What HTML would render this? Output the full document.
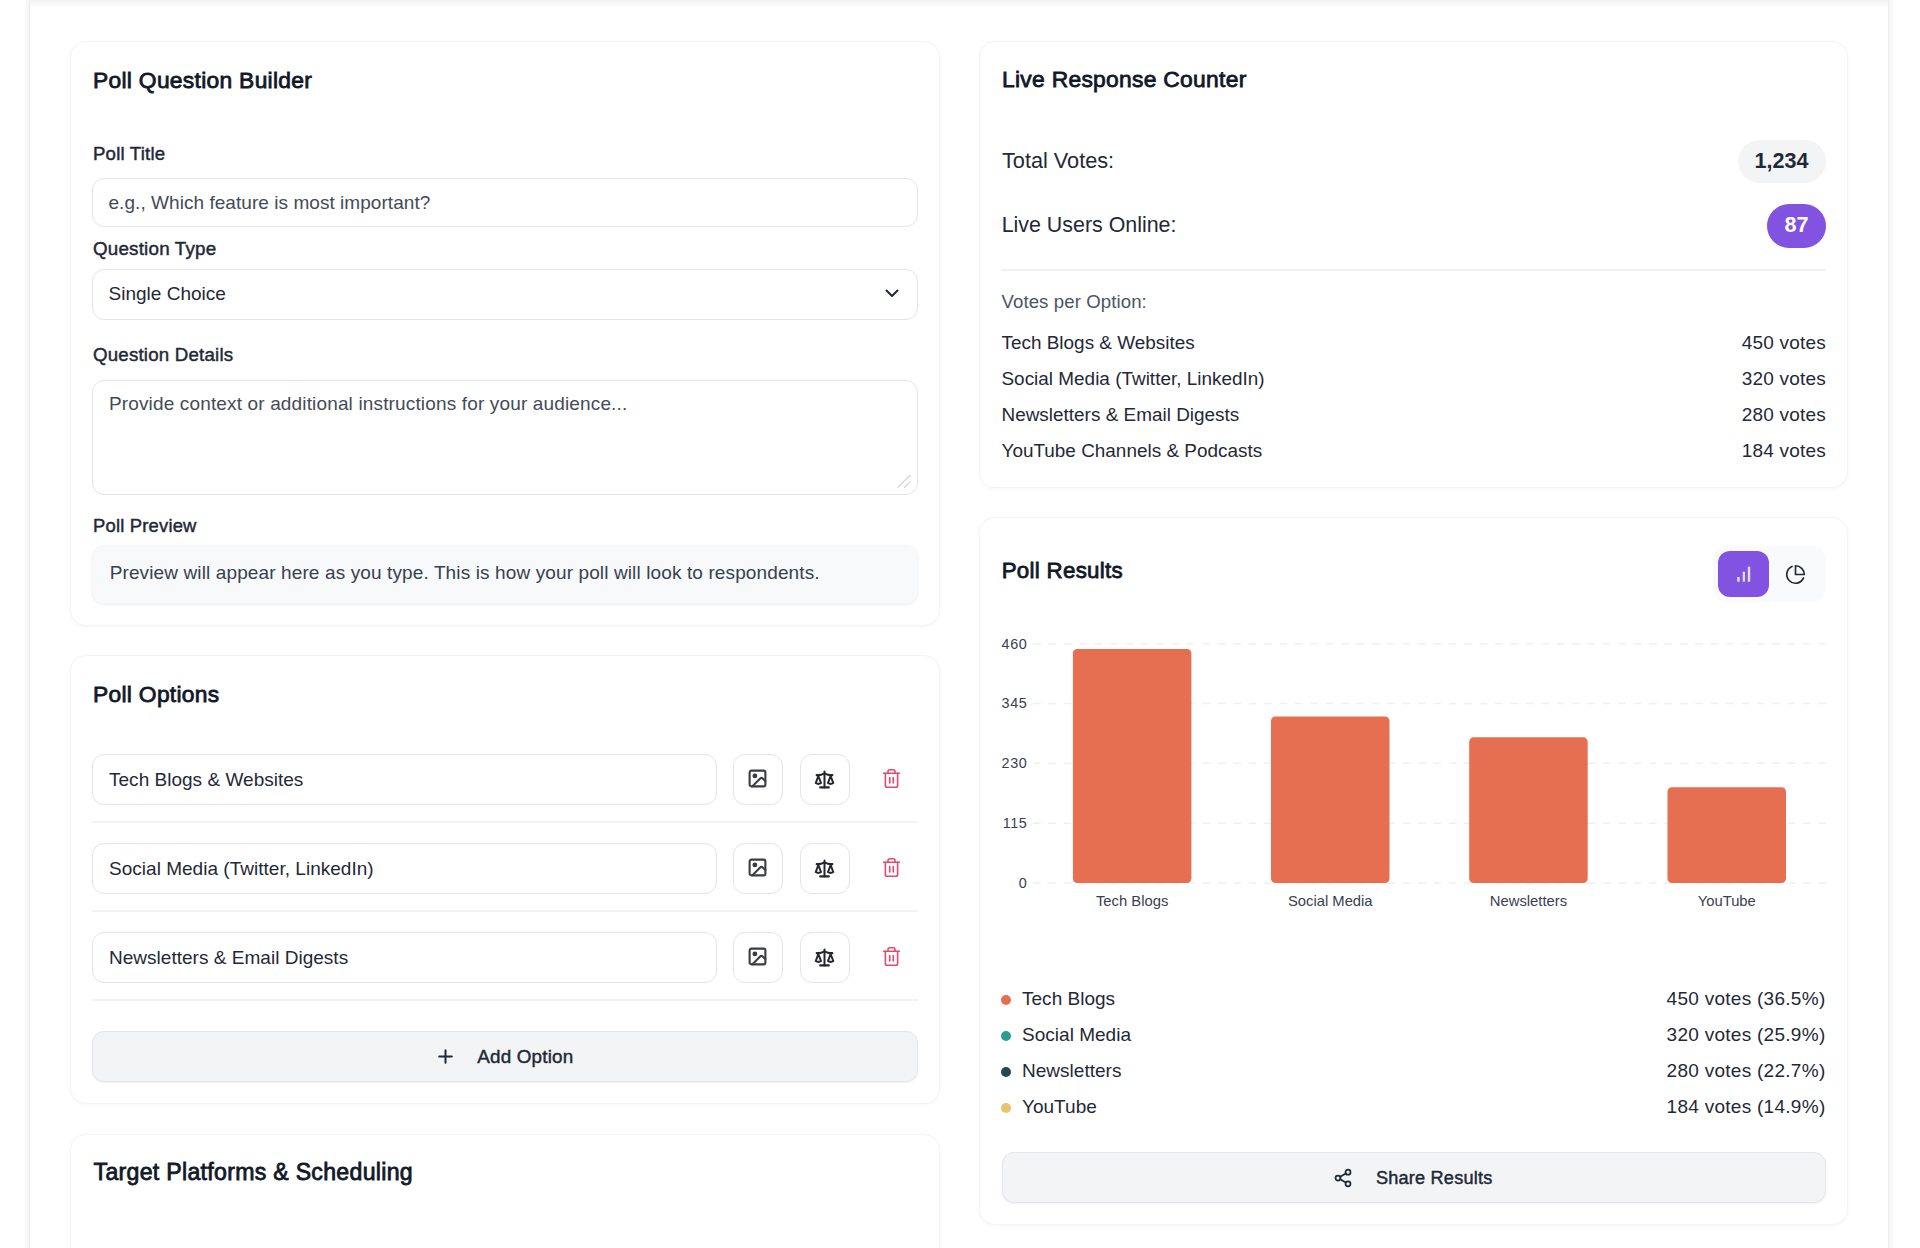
<!DOCTYPE html>
<html><head><meta charset="utf-8"><title>Poll Builder</title>
<style>
html,body{margin:0;padding:0;background:#fff;}
body{position:relative;width:1920px;height:1248px;overflow:hidden;font-family:"Liberation Sans", sans-serif;}
.t{position:absolute;white-space:nowrap;line-height:1;}
.b{position:absolute;box-sizing:border-box;}
</style></head><body>
<div class="b" style="left:29px;top:-60px;width:1860.00px;height:1460.00px;border-left:1px solid #efeff2;border-right:1px solid #efeff2;box-shadow:0 0 7px 1px rgba(0,0,0,0.075);background:#fff;"></div>
<div class="b" style="left:30px;top:0px;width:1858.00px;height:8.00px;background:linear-gradient(rgba(60,60,80,0.07),rgba(60,60,80,0));"></div>
<div class="b" style="left:70px;top:40.5px;width:869.50px;height:585.00px;background:#fff;border:1px solid #f5f5f6;border-radius:16px;box-shadow:0 1px 4px rgba(0,0,0,0.035);"></div>
<div class="b" style="left:70px;top:654.5px;width:869.50px;height:449.00px;background:#fff;border:1px solid #f5f5f6;border-radius:16px;box-shadow:0 1px 4px rgba(0,0,0,0.035);"></div>
<div class="b" style="left:70px;top:1134px;width:869.50px;height:266.00px;background:#fff;border:1px solid #f5f5f6;border-radius:16px;box-shadow:0 1px 4px rgba(0,0,0,0.035);"></div>
<div class="b" style="left:978.5px;top:40.5px;width:869.50px;height:447.00px;background:#fff;border:1px solid #f5f5f6;border-radius:16px;box-shadow:0 1px 4px rgba(0,0,0,0.035);"></div>
<div class="b" style="left:978.5px;top:517px;width:869.50px;height:708.00px;background:#fff;border:1px solid #f5f5f6;border-radius:16px;box-shadow:0 1px 4px rgba(0,0,0,0.035);"></div>
<div class="t" style="top:69.00px;font-size:22.8px;font-weight:400;color:#111827;left:93.00px;-webkit-text-stroke:0.8px currentColor;letter-spacing:0.3px;">Poll Question Builder</div>
<div class="t" style="top:145.00px;font-size:18.6px;font-weight:400;color:#1f2937;left:93.00px;-webkit-text-stroke:0.45px currentColor;letter-spacing:0.2px;">Poll Title</div>
<div class="b" style="left:92px;top:178px;width:826.00px;height:49.00px;background:#fff;border:1.5px solid #e3e5ea;border-radius:12px;box-sizing:border-box;"></div>
<div class="t" style="top:193.00px;font-size:19px;font-weight:400;color:#434b58;letter-spacing:0.05px;left:108.50px;">e.g., Which feature is most important?</div>
<div class="t" style="top:240.00px;font-size:18.8px;font-weight:400;color:#1f2937;left:93.00px;-webkit-text-stroke:0.45px currentColor;letter-spacing:0.2px;">Question Type</div>
<div class="b" style="left:92px;top:268.5px;width:826.00px;height:51.00px;background:#fff;border:1.5px solid #e3e5ea;border-radius:12px;box-sizing:border-box;"></div>
<div class="t" style="top:284.00px;font-size:19px;font-weight:400;color:#1f2937;left:108.60px;">Single Choice</div>
<svg class="b" style="left:884px;top:287px" width="16" height="12" viewBox="0 0 16 12"><path d="M2.5 3.5 L8 9 L13.5 3.5" fill="none" stroke="#1f2937" stroke-width="2" stroke-linecap="round" stroke-linejoin="round"/></svg>
<div class="t" style="top:346.00px;font-size:18.7px;font-weight:400;color:#1f2937;left:93.00px;-webkit-text-stroke:0.45px currentColor;letter-spacing:0.2px;">Question Details</div>
<div class="b" style="left:92px;top:379.5px;width:826.00px;height:115.50px;background:#fff;border:1.5px solid #e3e5ea;border-radius:12px;box-sizing:border-box;"></div>
<div class="t" style="top:394.00px;font-size:19px;font-weight:400;color:#434b58;letter-spacing:0.15px;left:108.90px;">Provide context or additional instructions for your audience...</div>
<svg class="b" style="left:895px;top:472px" width="18" height="18" viewBox="0 0 18 18"><path d="M3 15.2 L15 3.2 M9.5 15.2 L15 9.7" stroke="#d5d8de" stroke-width="1.4" stroke-linecap="round"/></svg>
<div class="t" style="top:517.00px;font-size:18.4px;font-weight:400;color:#1f2937;left:93.00px;-webkit-text-stroke:0.45px currentColor;letter-spacing:0.2px;">Poll Preview</div>
<div class="b" style="left:92px;top:545px;width:826.00px;height:58.50px;background:#f8f9fa;border-radius:13px;box-shadow:0 1px 3px rgba(0,0,0,0.07),0 0 1px rgba(0,0,0,0.04);"></div>
<div class="t" style="top:563.00px;font-size:19px;font-weight:400;color:#374151;letter-spacing:0.12px;left:109.70px;">Preview will appear here as you type. This is how your poll will look to respondents.</div>
<div class="t" style="top:683.00px;font-size:22.8px;font-weight:400;color:#111827;left:93.00px;-webkit-text-stroke:0.8px currentColor;letter-spacing:0.3px;">Poll Options</div>
<div class="b" style="left:92px;top:754px;width:624.50px;height:50.50px;background:#fff;border:1.5px solid #e3e5ea;border-radius:12px;box-sizing:border-box;"></div>
<div class="t" style="top:770.00px;font-size:19px;font-weight:400;color:#1f2937;letter-spacing:0.02px;left:109.00px;">Tech Blogs &amp; Websites</div>
<div class="b" style="left:732.5px;top:754px;width:50.50px;height:50.50px;background:#fff;border:1.5px solid #e3e5ea;border-radius:12px;box-sizing:border-box;display:flex;align-items:center;justify-content:center;"><svg width="21" height="21" viewBox="0 0 24 24" fill="none" stroke="#3a3d44" stroke-width="2.4" stroke-linecap="round" stroke-linejoin="round" style="margin-top:-1px"><rect width="18" height="18" x="3" y="3" rx="2" ry="2"/><circle cx="9" cy="9" r="1.6" fill="#3a3d44"/><path d="m21 15-3.086-3.086a2 2 0 0 0-2.828 0L6 21"/></svg></div>
<div class="b" style="left:799.5px;top:754px;width:50.50px;height:50.50px;background:#fff;border:1.5px solid #e3e5ea;border-radius:12px;box-sizing:border-box;display:flex;align-items:center;justify-content:center;"><svg width="21" height="21" viewBox="0 0 24 24" fill="none" stroke="#25272c" stroke-width="2.3" stroke-linecap="round" stroke-linejoin="round"><path d="m16 16 3-8 3 8c-.87.65-1.92 1-3 1s-2.13-.35-3-1Z"/><path d="m2 16 3-8 3 8c-.87.65-1.92 1-3 1s-2.13-.35-3-1Z"/><path d="M7 21h10"/><path d="M12 3v18"/><path d="M3 7h2c2 0 5-1 7-2 2 1 5 2 7 2h2"/></svg></div>
<div class="b" style="left:881px;top:768px;width:21.00px;height:21.00px;display:flex;"><svg width="21" height="21" viewBox="0 0 24 24" fill="none" stroke="#e34b6e" stroke-width="1.85" stroke-linecap="round" stroke-linejoin="round"><path d="M3 6h18"/><path d="M19 6v14c0 1-1 2-2 2H7c-1 0-2-1-2-2V6"/><path d="M8 6V4c0-1 1-2 2-2h4c1 0 2 1 2 2v2"/><line x1="10" x2="10" y1="11" y2="17"/><line x1="14" x2="14" y1="11" y2="17"/></svg></div>
<div class="b" style="left:92px;top:821px;width:826.00px;height:1.50px;background:#f2f3f5;"></div>
<div class="b" style="left:92px;top:843px;width:624.50px;height:50.50px;background:#fff;border:1.5px solid #e3e5ea;border-radius:12px;box-sizing:border-box;"></div>
<div class="t" style="top:859.00px;font-size:19px;font-weight:400;color:#1f2937;letter-spacing:0.02px;left:109.00px;">Social Media (Twitter, LinkedIn)</div>
<div class="b" style="left:732.5px;top:843px;width:50.50px;height:50.50px;background:#fff;border:1.5px solid #e3e5ea;border-radius:12px;box-sizing:border-box;display:flex;align-items:center;justify-content:center;"><svg width="21" height="21" viewBox="0 0 24 24" fill="none" stroke="#3a3d44" stroke-width="2.4" stroke-linecap="round" stroke-linejoin="round" style="margin-top:-1px"><rect width="18" height="18" x="3" y="3" rx="2" ry="2"/><circle cx="9" cy="9" r="1.6" fill="#3a3d44"/><path d="m21 15-3.086-3.086a2 2 0 0 0-2.828 0L6 21"/></svg></div>
<div class="b" style="left:799.5px;top:843px;width:50.50px;height:50.50px;background:#fff;border:1.5px solid #e3e5ea;border-radius:12px;box-sizing:border-box;display:flex;align-items:center;justify-content:center;"><svg width="21" height="21" viewBox="0 0 24 24" fill="none" stroke="#25272c" stroke-width="2.3" stroke-linecap="round" stroke-linejoin="round"><path d="m16 16 3-8 3 8c-.87.65-1.92 1-3 1s-2.13-.35-3-1Z"/><path d="m2 16 3-8 3 8c-.87.65-1.92 1-3 1s-2.13-.35-3-1Z"/><path d="M7 21h10"/><path d="M12 3v18"/><path d="M3 7h2c2 0 5-1 7-2 2 1 5 2 7 2h2"/></svg></div>
<div class="b" style="left:881px;top:857px;width:21.00px;height:21.00px;display:flex;"><svg width="21" height="21" viewBox="0 0 24 24" fill="none" stroke="#e34b6e" stroke-width="1.85" stroke-linecap="round" stroke-linejoin="round"><path d="M3 6h18"/><path d="M19 6v14c0 1-1 2-2 2H7c-1 0-2-1-2-2V6"/><path d="M8 6V4c0-1 1-2 2-2h4c1 0 2 1 2 2v2"/><line x1="10" x2="10" y1="11" y2="17"/><line x1="14" x2="14" y1="11" y2="17"/></svg></div>
<div class="b" style="left:92px;top:910px;width:826.00px;height:1.50px;background:#f2f3f5;"></div>
<div class="b" style="left:92px;top:932px;width:624.50px;height:50.50px;background:#fff;border:1.5px solid #e3e5ea;border-radius:12px;box-sizing:border-box;"></div>
<div class="t" style="top:948.00px;font-size:19px;font-weight:400;color:#1f2937;letter-spacing:0.02px;left:109.00px;">Newsletters &amp; Email Digests</div>
<div class="b" style="left:732.5px;top:932px;width:50.50px;height:50.50px;background:#fff;border:1.5px solid #e3e5ea;border-radius:12px;box-sizing:border-box;display:flex;align-items:center;justify-content:center;"><svg width="21" height="21" viewBox="0 0 24 24" fill="none" stroke="#3a3d44" stroke-width="2.4" stroke-linecap="round" stroke-linejoin="round" style="margin-top:-1px"><rect width="18" height="18" x="3" y="3" rx="2" ry="2"/><circle cx="9" cy="9" r="1.6" fill="#3a3d44"/><path d="m21 15-3.086-3.086a2 2 0 0 0-2.828 0L6 21"/></svg></div>
<div class="b" style="left:799.5px;top:932px;width:50.50px;height:50.50px;background:#fff;border:1.5px solid #e3e5ea;border-radius:12px;box-sizing:border-box;display:flex;align-items:center;justify-content:center;"><svg width="21" height="21" viewBox="0 0 24 24" fill="none" stroke="#25272c" stroke-width="2.3" stroke-linecap="round" stroke-linejoin="round"><path d="m16 16 3-8 3 8c-.87.65-1.92 1-3 1s-2.13-.35-3-1Z"/><path d="m2 16 3-8 3 8c-.87.65-1.92 1-3 1s-2.13-.35-3-1Z"/><path d="M7 21h10"/><path d="M12 3v18"/><path d="M3 7h2c2 0 5-1 7-2 2 1 5 2 7 2h2"/></svg></div>
<div class="b" style="left:881px;top:946px;width:21.00px;height:21.00px;display:flex;"><svg width="21" height="21" viewBox="0 0 24 24" fill="none" stroke="#e34b6e" stroke-width="1.85" stroke-linecap="round" stroke-linejoin="round"><path d="M3 6h18"/><path d="M19 6v14c0 1-1 2-2 2H7c-1 0-2-1-2-2V6"/><path d="M8 6V4c0-1 1-2 2-2h4c1 0 2 1 2 2v2"/><line x1="10" x2="10" y1="11" y2="17"/><line x1="14" x2="14" y1="11" y2="17"/></svg></div>
<div class="b" style="left:92px;top:999px;width:826.00px;height:1.50px;background:#f2f3f5;"></div>
<div class="b" style="left:92px;top:1031px;width:826.00px;height:50.50px;background:#f3f4f6;border:1.5px solid #e3e5ea;border-radius:12px;box-sizing:border-box;box-shadow:0 1px 2px rgba(0,0,0,0.06);"></div>
<svg class="b" style="left:437px;top:1048px" width="17" height="17" viewBox="0 0 17 17"><path d="M8.5 2.2v12.6M2.2 8.5h12.6" stroke="#1f2937" stroke-width="2" stroke-linecap="round"/></svg>
<div class="t" style="top:1048.00px;font-size:18.85px;font-weight:400;color:#1f2937;left:477.20px;-webkit-text-stroke:0.45px currentColor;letter-spacing:0.2px;">Add Option</div>
<div class="t" style="top:1161.00px;font-size:23.1px;font-weight:400;color:#111827;left:93.60px;-webkit-text-stroke:0.8px currentColor;letter-spacing:0.3px;">Target Platforms &amp; Scheduling</div>
<div class="t" style="top:68.00px;font-size:22.8px;font-weight:400;color:#111827;left:1002.00px;-webkit-text-stroke:0.8px currentColor;letter-spacing:0.3px;">Live Response Counter</div>
<div class="t" style="top:150.00px;font-size:21.7px;font-weight:400;color:#1f2937;transform:scaleY(1.04);transform-origin:0 18px;left:1002.00px;">Total Votes:</div>
<div class="b" style="left:1737.5px;top:139.5px;width:88.50px;height:43.20px;background:#f3f4f6;border-radius:22px;"></div>
<div class="t" style="top:150.00px;font-size:21.6px;font-weight:700;color:#1f2937;transform:scaleY(1.04);transform-origin:0 18px;right:111.50px;">1,234</div>
<div class="t" style="top:215.00px;font-size:21.4px;font-weight:400;color:#1f2937;transform:scaleY(1.04);transform-origin:0 17px;left:1001.70px;">Live Users Online:</div>
<div class="b" style="left:1767px;top:204px;width:59.00px;height:43.50px;background:#8252e0;border-radius:22px;"></div>
<div class="t" style="top:214.00px;font-size:21.6px;font-weight:700;color:#fff;transform:scaleY(1.04);transform-origin:0 18px;right:111.50px;">87</div>
<div class="b" style="left:1001px;top:269px;width:825.00px;height:1.50px;background:#f0f1f3;"></div>
<div class="t" style="top:293.00px;font-size:18.6px;font-weight:400;color:#4b5563;letter-spacing:0.1px;left:1001.50px;">Votes per Option:</div>
<div class="t" style="top:334.00px;font-size:18.9px;font-weight:400;color:#1f2937;letter-spacing:0.02px;left:1001.50px;">Tech Blogs &amp; Websites</div>
<div class="t" style="top:333.00px;font-size:19px;font-weight:400;color:#1f2937;letter-spacing:0.22px;right:94.00px;">450 votes</div>
<div class="t" style="top:370.00px;font-size:18.9px;font-weight:400;color:#1f2937;letter-spacing:0.02px;left:1001.50px;">Social Media (Twitter, LinkedIn)</div>
<div class="t" style="top:369.00px;font-size:19px;font-weight:400;color:#1f2937;letter-spacing:0.22px;right:94.00px;">320 votes</div>
<div class="t" style="top:406.00px;font-size:18.9px;font-weight:400;color:#1f2937;letter-spacing:0.02px;left:1001.50px;">Newsletters &amp; Email Digests</div>
<div class="t" style="top:405.00px;font-size:19px;font-weight:400;color:#1f2937;letter-spacing:0.22px;right:94.00px;">280 votes</div>
<div class="t" style="top:442.00px;font-size:18.9px;font-weight:400;color:#1f2937;letter-spacing:0.02px;left:1001.50px;">YouTube Channels &amp; Podcasts</div>
<div class="t" style="top:441.00px;font-size:19px;font-weight:400;color:#1f2937;letter-spacing:0.22px;right:94.00px;">184 votes</div>
<div class="t" style="top:560.00px;font-size:22.3px;font-weight:400;color:#111827;left:1001.70px;-webkit-text-stroke:0.8px currentColor;letter-spacing:0.3px;">Poll Results</div>
<div class="b" style="left:1713px;top:546.3px;width:112.50px;height:55.80px;background:#f9fafb;border-radius:14px;"></div>
<div class="b" style="left:1718px;top:551px;width:51.30px;height:46.00px;background:#8252e0;border-radius:12px;"></div>
<svg class="b" style="left:1736px;top:565px" width="16" height="18" viewBox="0 0 16 18"><rect x="1.2" y="12" width="2.5" height="4.7" fill="#e6dcfa"/><rect x="6.7" y="6.8" width="2.3" height="9.9" fill="#e6dcfa"/><rect x="11.8" y="1.7" width="2.4" height="15" fill="#e6dcfa"/></svg>
<svg class="b" style="left:1784.5px;top:563.5px" width="21" height="21" viewBox="0 0 24 24" fill="none" stroke="#1f2937" stroke-width="1.9" stroke-linecap="round" stroke-linejoin="round"><path d="M21.21 15.89A10 10 0 1 1 8 2.83"/><path d="M22 12A10 10 0 0 0 12 2v10z"/></svg>
<svg class="b" style="left:0;top:0" width="1920" height="1248"><line x1="1033" x2="1826" y1="883.00" y2="883.00" stroke="#f0f0f0" stroke-width="1.5" stroke-dasharray="7.7 7.7"/><line x1="1033" x2="1826" y1="823.18" y2="823.18" stroke="#f0f0f0" stroke-width="1.5" stroke-dasharray="7.7 7.7"/><line x1="1033" x2="1826" y1="763.36" y2="763.36" stroke="#f0f0f0" stroke-width="1.5" stroke-dasharray="7.7 7.7"/><line x1="1033" x2="1826" y1="703.54" y2="703.54" stroke="#f0f0f0" stroke-width="1.5" stroke-dasharray="7.7 7.7"/><line x1="1033" x2="1826" y1="643.72" y2="643.72" stroke="#f0f0f0" stroke-width="1.5" stroke-dasharray="7.7 7.7"/><rect x="1072.9" y="648.92" width="118.5" height="234.08" rx="4.5" fill="#e76f51"/><rect x="1271.0" y="716.54" width="118.5" height="166.46" rx="4.5" fill="#e76f51"/><rect x="1469.2" y="737.35" width="118.5" height="145.65" rx="4.5" fill="#e76f51"/><rect x="1667.5" y="787.29" width="118.5" height="95.71" rx="4.5" fill="#e76f51"/></svg>
<div class="t" style="top:876.00px;font-size:14.4px;font-weight:400;color:#374151;letter-spacing:0.6px;right:892.60px;">0</div>
<div class="t" style="top:816.00px;font-size:14.4px;font-weight:400;color:#374151;letter-spacing:0.6px;right:892.60px;">115</div>
<div class="t" style="top:756.00px;font-size:14.4px;font-weight:400;color:#374151;letter-spacing:0.6px;right:892.60px;">230</div>
<div class="t" style="top:696.00px;font-size:14.4px;font-weight:400;color:#374151;letter-spacing:0.6px;right:892.60px;">345</div>
<div class="t" style="top:637.00px;font-size:14.4px;font-weight:400;color:#374151;letter-spacing:0.6px;right:892.60px;">460</div>
<div class="t" style="top:894.00px;font-size:14.8px;font-weight:400;color:#374151;left:732.15px;width:800px;text-align:center;">Tech Blogs</div>
<div class="t" style="top:894.00px;font-size:14.8px;font-weight:400;color:#374151;left:930.25px;width:800px;text-align:center;">Social Media</div>
<div class="t" style="top:894.00px;font-size:14.8px;font-weight:400;color:#374151;left:1128.45px;width:800px;text-align:center;">Newsletters</div>
<div class="t" style="top:894.00px;font-size:14.8px;font-weight:400;color:#374151;left:1326.75px;width:800px;text-align:center;">YouTube</div>
<div class="b" style="left:1000.5px;top:994.5px;width:10.50px;height:10.50px;background:#e76f51;border-radius:50%;"></div>
<div class="t" style="top:989.00px;font-size:19px;font-weight:400;color:#1f2937;letter-spacing:0.02px;left:1022.00px;">Tech Blogs</div>
<div class="t" style="top:989.00px;font-size:19px;font-weight:400;color:#1f2937;letter-spacing:0.28px;right:94.50px;">450 votes (36.5%)</div>
<div class="b" style="left:1000.5px;top:1030.6px;width:10.50px;height:10.50px;background:#2a9d8f;border-radius:50%;"></div>
<div class="t" style="top:1025.00px;font-size:19px;font-weight:400;color:#1f2937;letter-spacing:0.02px;left:1022.00px;">Social Media</div>
<div class="t" style="top:1025.00px;font-size:19px;font-weight:400;color:#1f2937;letter-spacing:0.28px;right:94.50px;">320 votes (25.9%)</div>
<div class="b" style="left:1000.5px;top:1066.7px;width:10.50px;height:10.50px;background:#264653;border-radius:50%;"></div>
<div class="t" style="top:1061.00px;font-size:19px;font-weight:400;color:#1f2937;letter-spacing:0.02px;left:1022.00px;">Newsletters</div>
<div class="t" style="top:1061.00px;font-size:19px;font-weight:400;color:#1f2937;letter-spacing:0.28px;right:94.50px;">280 votes (22.7%)</div>
<div class="b" style="left:1000.5px;top:1102.8px;width:10.50px;height:10.50px;background:#e9c46a;border-radius:50%;"></div>
<div class="t" style="top:1097.00px;font-size:19px;font-weight:400;color:#1f2937;letter-spacing:0.02px;left:1022.00px;">YouTube</div>
<div class="t" style="top:1097.00px;font-size:19px;font-weight:400;color:#1f2937;letter-spacing:0.28px;right:94.50px;">184 votes (14.9%)</div>
<div class="b" style="left:1001.5px;top:1152.2px;width:824.00px;height:51.10px;background:#f3f4f6;border:1.5px solid #e3e5ea;border-radius:12px;box-sizing:border-box;box-shadow:0 1px 2px rgba(0,0,0,0.06);"></div>
<svg class="b" style="left:1332.5px;top:1168px" width="20" height="20" viewBox="0 0 24 24" fill="none" stroke="#1f2937" stroke-width="2.1" stroke-linecap="round" stroke-linejoin="round"><circle cx="18" cy="5" r="3"/><circle cx="6" cy="12" r="3"/><circle cx="18" cy="19" r="3"/><line x1="8.59" x2="15.42" y1="13.51" y2="17.49"/><line x1="15.41" x2="8.59" y1="6.51" y2="10.49"/></svg>
<div class="t" style="top:1169.00px;font-size:18.15px;font-weight:400;color:#1f2937;left:1375.90px;-webkit-text-stroke:0.45px currentColor;letter-spacing:0.2px;">Share Results</div>
</body></html>
